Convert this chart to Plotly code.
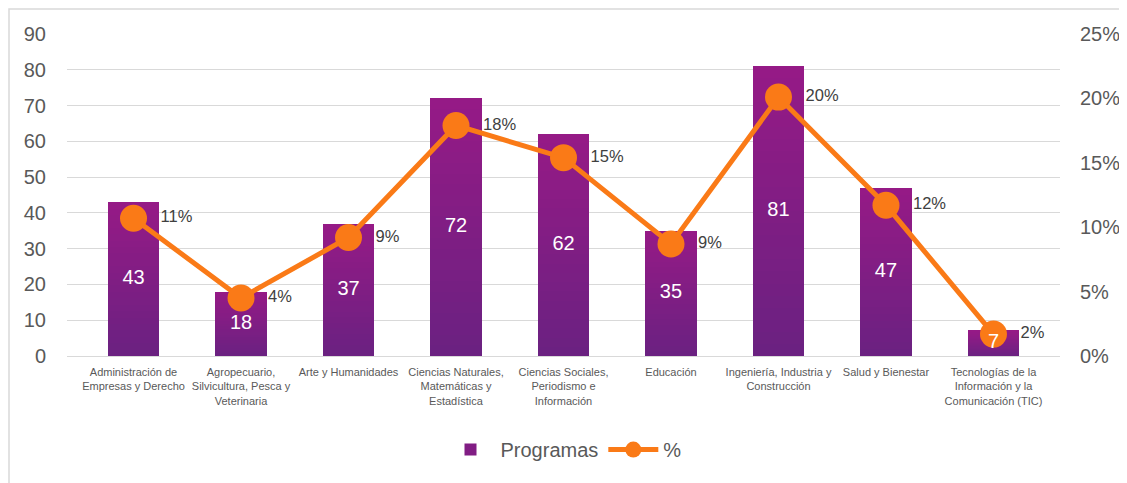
import plotly.graph_objects as go

categories = [
    "Administración de<br>Empresas y Derecho",
    "Agropecuario,<br>Silvicultura, Pesca y<br>Veterinaria",
    "Arte y Humanidades",
    "Ciencias Naturales,<br>Matemáticas y<br>Estadística",
    "Ciencias Sociales,<br>Periodismo e<br>Información",
    "Educación",
    "Ingeniería, Industria y<br>Construcción",
    "Salud y Bienestar",
    "Tecnologías de la<br>Información y la<br>Comunicación (TIC)",
]
programas = [43, 18, 37, 72, 62, 35, 81, 47, 7]
porcentaje = [0.107, 0.045, 0.092, 0.179, 0.154, 0.087, 0.201, 0.117, 0.017]
pct_labels = ["11%", "4%", "9%", "18%", "15%", "9%", "20%", "12%", "2%"]

FONT = "Liberation Sans, Arial, sans-serif"
BAR_BOTTOM = (0x6a, 0x21, 0x81)
BAR_TOP = (0x96, 0x1a, 0x86)
ORANGE = "#fa7a17"
GREY = "#595959"

W, H = 1119, 475
L, R, T, B = 59, 67, 26, 127
PW, PH = W - L - R, H - T - B
Y_RANGE = [0, 90]

fig = go.Figure()

# bars drawn as stacked slices of each value to imitate the vertical gradient
N = 24
for k in range(N):
    f = (k + 0.5) / N
    c = tuple(round(BAR_BOTTOM[i] + (BAR_TOP[i] - BAR_BOTTOM[i]) * f) for i in range(3))
    fig.add_trace(go.Bar(
        x=categories, y=[v / N for v in programas],
        name="Programas", legendgroup="prog", showlegend=(k == N // 2),
        marker=dict(color="rgb(%d,%d,%d)" % c, line=dict(width=0)),
        hoverinfo="skip",
    ))

fig.add_trace(go.Scatter(
    x=categories, y=porcentaje, name="%", yaxis="y2",
    mode="lines+markers+text",
    line=dict(color=ORANGE, width=5),
    marker=dict(color=ORANGE, size=27),
    text=["\u00a0\u00a0" + t for t in pct_labels], textposition="middle right",
    textfont=dict(color="#404040", size=16.5, family=FONT),
    cliponaxis=False,
))

# value labels of the bars, on a hidden overlay axis so they sit on top of the line
fig.add_trace(go.Scatter(
    x=categories, y=[v / 2 for v in programas], mode="text", yaxis="y3",
    text=[str(v) for v in programas], textposition="middle center",
    textfont=dict(color="white", size=20, family=FONT),
    showlegend=False, hoverinfo="skip", cliponaxis=False,
))

fig.update_layout(
    width=W, height=H,
    margin=dict(l=L, r=R, t=T, b=B, autoexpand=False),
    paper_bgcolor="white", plot_bgcolor="white",
    font=dict(family=FONT, color=GREY),
    barmode="stack",
    bargap=0.52,
    showlegend=True,
    legend=dict(orientation="h", x=0.5, xanchor="center", y=-0.23, yanchor="top",
                font=dict(size=20, color=GREY, family=FONT), itemwidth=50),
    xaxis=dict(tickfont=dict(size=11, color=GREY, family=FONT), showgrid=False,
               tickangle=0, ticks="", showline=False, automargin=False,
               ticklabelstandoff=8),
    yaxis=dict(range=Y_RANGE, dtick=10, showgrid=True, gridcolor="#d9d9d9", gridwidth=1,
               zeroline=True, zerolinecolor="#d9d9d9", zerolinewidth=1,
               tickfont=dict(size=20, color=GREY, family=FONT), ticks="",
               ticklabelstandoff=20, automargin=False),
    yaxis2=dict(range=[0, 0.25], dtick=0.05, tickformat=".0%", overlaying="y", side="right",
                showgrid=False, zeroline=False,
                tickfont=dict(size=20, color=GREY, family=FONT), ticks="",
                ticklabelstandoff=19, automargin=False),
    yaxis3=dict(range=Y_RANGE, overlaying="y", visible=False, showgrid=False,
                zeroline=False),
    shapes=[dict(type="rect", xref="paper", yref="paper",
                 x0=(1 - L) / PW, x1=(W + 20 - L) / PW,
                 y0=-(B + 20) / PH, y1=(PH + T - 1) / PH,
                 line=dict(color="#d9d9d9", width=1.5), fillcolor="rgba(0,0,0,0)", layer="below")],
)

fig.write_html("out.html")
